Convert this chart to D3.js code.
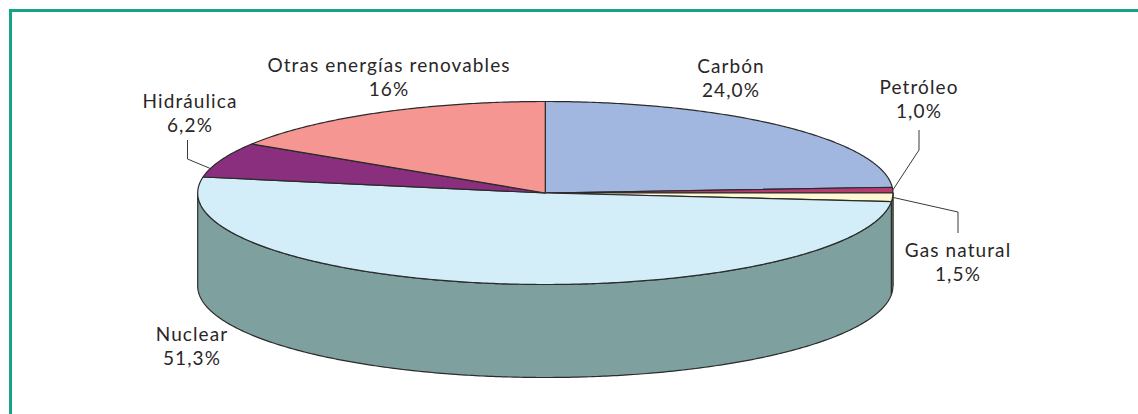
<!DOCTYPE html>
<html>
<head>
<meta charset="utf-8">
<script src="https://cdn.jsdelivr.net/npm/d3@7"></script>
<style>
  html, body { margin: 0; padding: 0; background: #fff; }
  svg { display: block; }
  text { font-family: Lato, "Open Sans", sans-serif; fill: #2a2627; }
</style>
</head>
<body>
<svg id="chart" width="1138" height="414"></svg>
<script>
// Electricity generation mix (percent)
const categories = ["Carbón", "Petróleo", "Gas natural", "Nuclear", "Hidráulica", "Otras energías renovables"];
const shares = [24.0, 1.0, 1.5, 51.3, 6.2, 16];
const shareLabels = ["24,0%", "1,0%", "1,5%", "51,3%", "6,2%", "16%"];

const topColors  = ["#a1b7df", "#b63b71", "#fdf9d3", "#d4eef9", "#8a2f7d", "#f59692"];
const sideColors = ["#7588ad", "#8a2c56", "#c9c6a3", "#7ea09e", "#65215b", "#bf6f6c"];

const svg = d3.select("#chart");

// Frame
svg.append("path")
  .attr("d", "M10.5,414 L10.5,10.5 L1138,10.5")
  .attr("fill", "none")
  .attr("stroke", "#17a389")
  .attr("stroke-width", 3);

// Elliptical projection of the pie
const cx = 545.3, cy = 193, rx = 347.6, ry = 91.5, depth = 93;
const px = a => cx + rx * Math.sin(a);
const py = a => cy - ry * Math.cos(a);

const pie = d3.pie().sort(null).value(d => d.value).startAngle(0).endAngle(2 * Math.PI);
const arcs = pie(categories.map((c, i) => ({ name: c, value: shares[i], label: shareLabels[i], i })));

const line = d3.line();
const sample = (a0, a1, dy = 0) => {
  const n = Math.max(2, Math.ceil(Math.abs(a1 - a0) / 0.01));
  return d3.range(n + 1).map(k => {
    const a = a0 + (a1 - a0) * k / n;
    return [px(a), py(a) + dy];
  });
};

const stroke = "#2b2b2b";

// Cylinder wall: only the front half (angles between π/2 and 3π/2) is visible
const sides = svg.append("g");
arcs.forEach(d => {
  const s0 = Math.max(d.startAngle, Math.PI / 2);
  const s1 = Math.min(d.endAngle, 3 * Math.PI / 2);
  if (s1 <= s0) return;
  const pts = sample(s0, s1).concat(sample(s1, s0, depth));
  sides.append("path")
    .attr("d", line(pts) + "Z")
    .attr("fill", sideColors[d.data.i])
    .attr("stroke", stroke)
    .attr("stroke-width", 1.2)
    .attr("stroke-linejoin", "round");
});

// Top face
const tops = svg.append("g");
arcs.forEach(d => {
  const pts = [[cx, cy]].concat(sample(d.startAngle, d.endAngle));
  tops.append("path")
    .attr("d", line(pts) + "Z")
    .attr("fill", topColors[d.data.i])
    .attr("stroke", stroke)
    .attr("stroke-width", 1.2)
    .attr("stroke-linejoin", "round");
});

// Label placement (centre x, baseline y of first line) and leader elbows
const layout = {
  "Carbón":                    { x: 731, y: 73 },
  "Petróleo":                  { x: 919, y: 94, leader: [[919, 130], [919, 150]] },
  "Gas natural":               { x: 958, y: 257, leader: [[958, 233], [958, 212]] },
  "Nuclear":                   { x: 192, y: 341 },
  "Hidráulica":                { x: 190, y: 108, leader: [[187.5, 140], [187.5, 159]], tip: -0.1 },
  "Otras energías renovables": { x: 389, y: 72 }
};

const labels = svg.append("g").attr("font-size", 19).attr("text-anchor", "middle");
arcs.forEach(d => {
  const L = layout[d.data.name];
  const t = labels.append("text").attr("x", L.x).attr("y", L.y).style("letter-spacing", "1.1px");
  t.append("tspan").attr("x", L.x).text(d.data.name);
  t.append("tspan").attr("x", L.x).attr("dy", 24).text(d.data.label);
  if (L.leader) {
    const a = (d.startAngle + d.endAngle) / 2 + (L.tip || 0);
    const pts = L.leader.concat([[px(a), py(a)]]);
    svg.append("path")
      .attr("d", line(pts))
      .attr("fill", "none")
      .attr("stroke", "#3a3a3a")
      .attr("stroke-width", 1);
  }
});
</script>
</body>
</html>
